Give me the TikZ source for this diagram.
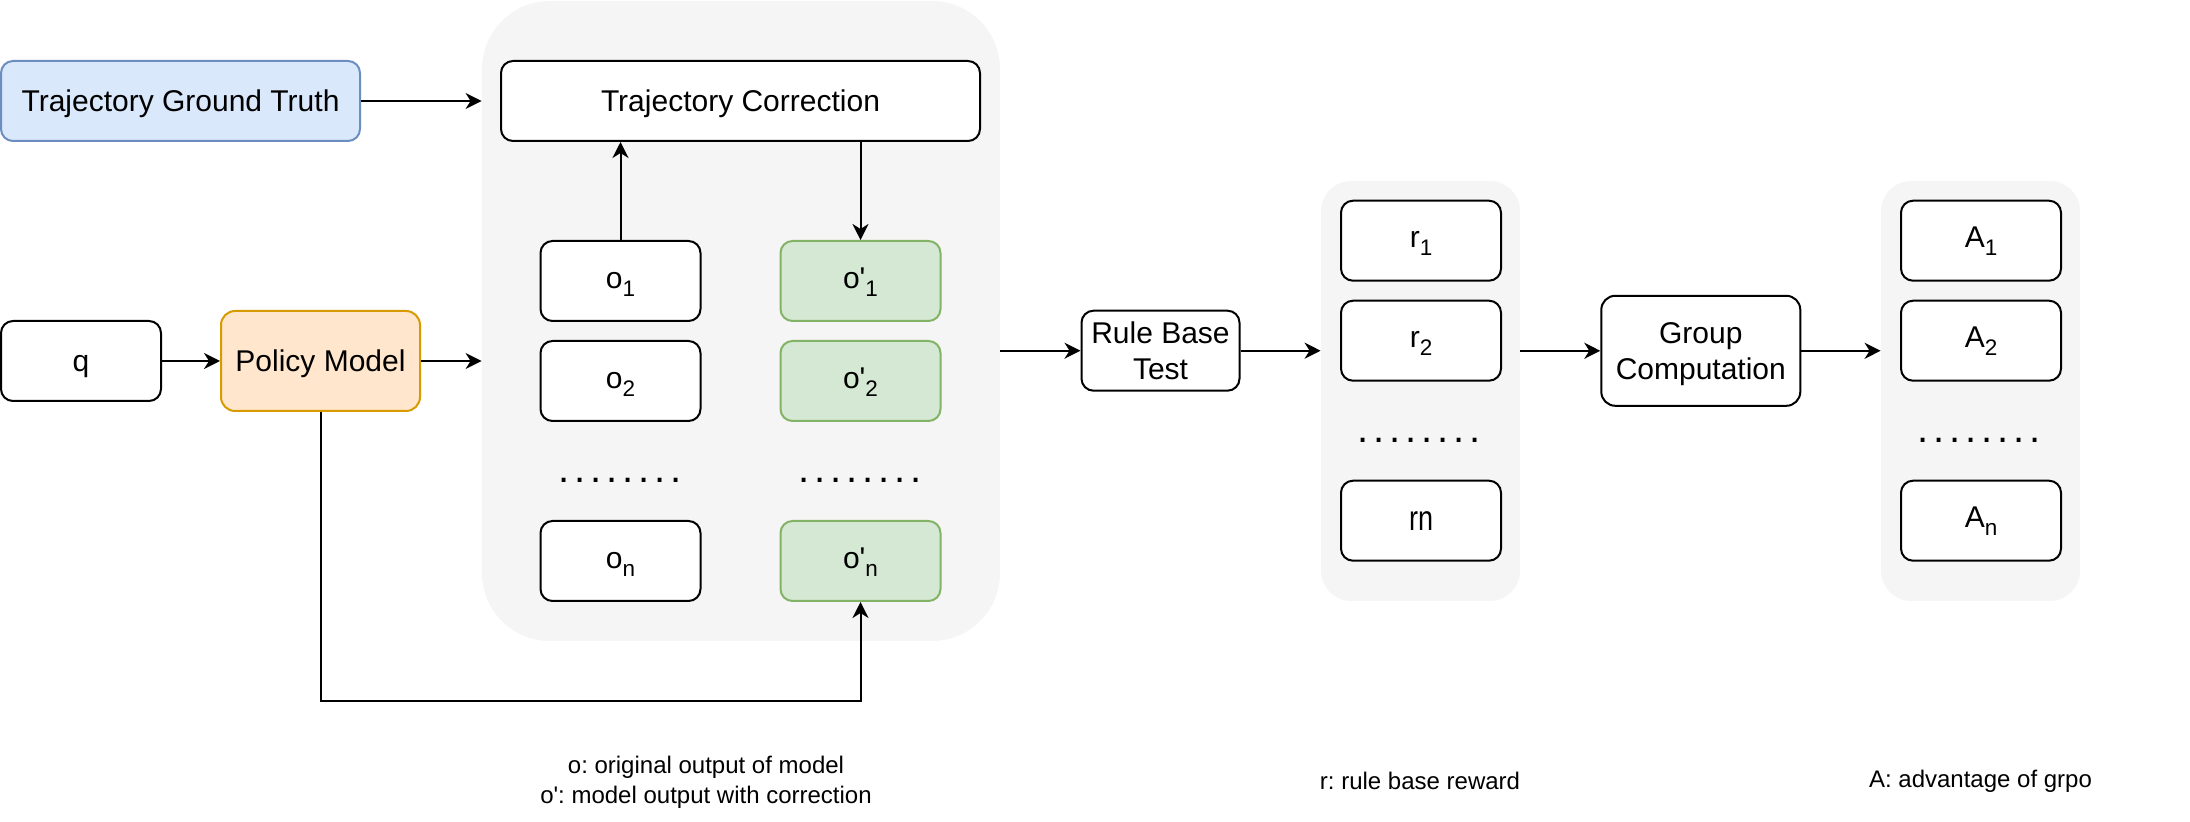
\documentclass[tikz,border=0pt]{standalone}
\usepackage{fontspec}
\usepackage{graphicx}
\setmainfont{Liberation Sans}
\frenchspacing
\usetikzlibrary{arrows.meta,calc}
\definecolor{blueF}{HTML}{DAE8FC}
\definecolor{blueD}{HTML}{6C8EBF}
\definecolor{orangeF}{HTML}{FFE6CC}
\definecolor{orangeD}{HTML}{D79B00}
\definecolor{greenF}{HTML}{D5E8D4}
\definecolor{greenD}{HTML}{82B366}
\definecolor{grayF}{HTML}{F5F5F5}
\newcommand\fmain{\fontsize{15pt}{18pt}\selectfont}
\newcommand\flegend{\fontsize{12pt}{15pt}\selectfont}
\newcommand\fdots{\fontsize{20pt}{22pt}\selectfont\addfontfeature{LetterSpace=12.2}}
\newcommand\subs[1]{\raisebox{-4pt}{\fontsize{11.25pt}{12pt}\selectfont #1}}
\newcommand\qs{\textquotesingle}
\newcommand\twolines[2]{\begin{tabular}[t]{@{}c@{}}#1\\#2\end{tabular}}
\tikzset{
  boxnode/.style={draw=black, line width=1pt, rounded corners=6pt, fill=white,
    minimum width=80pt, minimum height=40pt, inner sep=0pt, font=\fmain,
    text height=13.2pt, text depth=3pt},
  subbox/.style={boxnode, text height=10.1pt, text depth=3pt},
  multibox/.style={boxnode, text height=12.6pt, text depth=19.6pt},
  greenbox/.style={subbox, draw=greenD, fill=greenF},
  groupbg/.style={fill=grayF, draw=none, inner sep=0pt},
  arr/.style={line width=1pt, -{Stealth[length=8pt,width=8pt,inset=2.5pt]}},
  dotsnode/.style={font=\fdots, inner sep=0pt, anchor=base},
  legend/.style={font=\flegend, align=center, inner sep=0pt}
}
\begin{document}
\begin{tikzpicture}[x=0.5pt,y=-0.5pt]
\path[use as bounding box] (0,0) rectangle (2190,822);
% group backgrounds
\node[groupbg, rounded corners=34pt, minimum width=259pt, minimum height=320pt] (cont) at (741,321) {};
\node[groupbg, rounded corners=15pt, minimum width=99.5pt, minimum height=210pt] (rc) at (1420.5,391) {};
\node[groupbg, rounded corners=15pt, minimum width=99.5pt, minimum height=210pt] (ac) at (1980.5,391) {};
% left nodes
\node[boxnode, draw=blueD, fill=blueF, minimum width=179.5pt] (tgt) at (180.5,101) {Trajectory Ground Truth};
\node[boxnode, minimum width=239.5pt] (tc) at (740.5,101) {Trajectory Correction};
\node[boxnode] (q) at (81,361) {q};
\node[boxnode, draw=orangeD, fill=orangeF, minimum width=99.5pt, minimum height=50pt, rounded corners=7pt] (pm) at (320.5,361) {Policy Model};
% o column
\node[subbox] (o1) at (620.5,281) {o\subs{1}};
\node[subbox] (o2) at (620.5,381) {o\subs{2}};
\node[subbox] (on) at (620.5,561) {o\subs{n}};
\node[greenbox] (op1) at (860.5,281) {o\qs\subs{1}};
\node[greenbox] (op2) at (860.5,381) {o\qs\subs{2}};
\node[greenbox] (opn) at (860.5,561) {o\qs\subs{n}};
\node[dotsnode] (od) at (620,483) {........};
\node[dotsnode] (opd) at (860,483) {........};
% right part
\node[multibox, minimum width=79pt] (rbt) at (1160.5,350.7) {\twolines{Rule Base}{Test}};
\node[subbox] (r1) at (1421,240.7) {r\subs{1}};
\node[subbox] (r2) at (1421,340.7) {r\subs{2}};
\node[boxnode] (rn) at (1421,520.7) {\scalebox{0.9}[1.17]{rn}};
\node[dotsnode] (rd) at (1419,443) {........};
\node[multibox, minimum width=99.5pt, minimum height=55pt, rounded corners=7pt] (gc) at (1700.8,350.8) {\twolines{Group}{Computation}};
\node[subbox] (a1) at (1981,240.7) {A\subs{1}};
\node[subbox] (a2) at (1981,340.7) {A\subs{2}};
\node[subbox] (an) at (1981,520.7) {A\subs{n}};
\node[dotsnode] (ad) at (1979,443) {........};
% legends
\node[legend] (lego) at (706,782) {o: original output of model\\o\qs: model output with correction};
\node[legend] (legr) at (1420,781) {r: rule base reward};
\node[legend] (lega) at (1980.5,781) {A: advantage of grpo};
% connectors
\draw[arr] (tgt.east) -- (tgt.east -| cont.west);
\draw[arr] (q.east) -- (pm.west);
\draw[arr] (pm.east) -- (pm.east -| cont.west);
\draw[arr] (o1.north) -- (o1.north |- tc.south);
\draw[arr] (op1.north |- tc.south) -- (op1.north);
\coordinate (fb) at (860.5,701);
\draw[arr] (pm.south) |- (fb) -- (opn.south);
\draw[arr] (rbt.west -| cont.east) -- (rbt.west);
\draw[arr] (rbt.east) -- (rbt.east -| rc.west);
\draw[arr] (gc.west -| rc.east) -- (gc.west);
\draw[arr] (gc.east) -- (gc.east -| ac.west);
\end{tikzpicture}
\end{document}
